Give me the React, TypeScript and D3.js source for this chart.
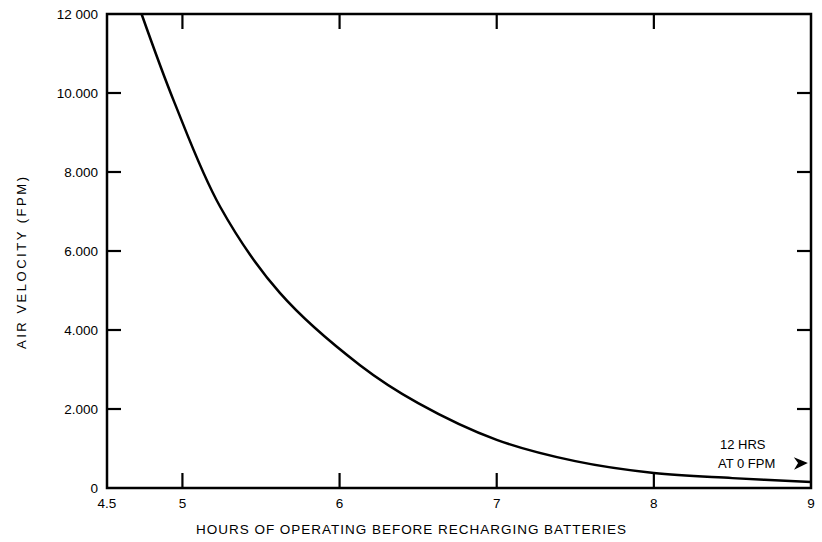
import React, { useEffect, useRef } from "react";
import * as d3 from "d3";

const hours = [4.74, 4.95, 5.24, 5.62, 6.13, 6.5, 7.0, 7.5, 8.0, 8.5, 9.0];
const velocity = [12000, 9750, 7120, 4940, 3110, 2150, 1220, 680, 380, 250, 150];
const xTicks = [4.5, 5, 6, 7, 8, 9];
const xTickLabels = ["4.5", "5", "6", "7", "8", "9"];
const yTicks = [0, 2000, 4000, 6000, 8000, 10000, 12000];
const yTickLabels = ["0", "2.000", "4.000", "6.000", "8.000", "10.000", "12 000"];

const W = 822, H = 542;
const FONT = "'Liberation Sans', Arial, Helvetica, sans-serif";

export default function App() {
  const ref = useRef<SVGSVGElement>(null);
  useEffect(() => {
    document.body.style.margin = "0";
    const svg = d3.select(ref.current);
    svg.selectAll("*").remove();
    const left = 107, right = 811, top = 14, bottom = 488;
    const x = d3.scaleLinear().domain([4.52, 9]).range([left, right]);
    const y = d3.scaleLinear().domain([0, 12000]).range([bottom, top]);
    const g = svg.append("g");
    g.append("rect").attr("x", left).attr("y", top).attr("width", right - left).attr("height", bottom - top)
      .attr("fill", "none").attr("stroke", "#000").attr("stroke-width", 2.5);
    yTicks.forEach((v, i) => {
      if (v > 0 && v < 12000) {
        g.append("line").attr("x1", left).attr("x2", left + 14).attr("y1", y(v)).attr("y2", y(v)).attr("stroke", "#000").attr("stroke-width", 2.2);
        g.append("line").attr("x1", right).attr("x2", right - 14).attr("y1", y(v)).attr("y2", y(v)).attr("stroke", "#000").attr("stroke-width", 2.2);
      }
      g.append("text").attr("x", left - 9).attr("y", y(v)).attr("dy", "0.36em").attr("text-anchor", "end")
        .attr("font-family", FONT).attr("font-size", 13.5).text(yTickLabels[i]);
    });
    xTicks.forEach((v, i) => {
      const px = v <= 4.52 ? left : x(v);
      if (v > 4.52 && v < 9) {
        g.append("line").attr("x1", px).attr("x2", px).attr("y1", bottom).attr("y2", bottom - 15).attr("stroke", "#000").attr("stroke-width", 2.2);
        g.append("line").attr("x1", px).attr("x2", px).attr("y1", top).attr("y2", top + 15).attr("stroke", "#000").attr("stroke-width", 2.2);
      }
      g.append("text").attr("x", px).attr("y", 508).attr("text-anchor", "middle")
        .attr("font-family", FONT).attr("font-size", 13.5).text(xTickLabels[i]);
    });
    const line = d3.line<number>().x((_, i) => x(hours[i])).y((d) => y(d)).curve(d3.curveCatmullRom.alpha(0.5));
    g.append("path").datum(velocity).attr("d", line).attr("fill", "none").attr("stroke", "#000").attr("stroke-width", 2.5);
    g.append("text").attr("x", 720).attr("y", 449).attr("font-family", FONT).attr("font-size", 13).text("12 HRS");
    g.append("text").attr("x", 718).attr("y", 468).attr("font-family", FONT).attr("font-size", 13).text("AT 0 FPM");
    g.append("path").attr("d", `M 796 459 L 806 463 L 796 468 L 799 463 Z`).attr("fill", "#000").attr("stroke", "#000").attr("stroke-width", 1.5);
    g.append("text").attr("x", 411).attr("y", 534).attr("text-anchor", "middle")
      .attr("font-family", FONT).attr("font-size", 13.5).attr("textLength", 430).text("HOURS OF OPERATING BEFORE RECHARGING BATTERIES");
    g.append("text").attr("transform", `translate(26, 263) rotate(-90)`).attr("text-anchor", "middle")
      .attr("font-family", FONT).attr("font-size", 13).attr("textLength", 172).text("AIR VELOCITY (FPM)");
  }, []);
  return <svg ref={ref} width={W} height={H} style={{ display: "block", background: "#fff" }} />;
}
